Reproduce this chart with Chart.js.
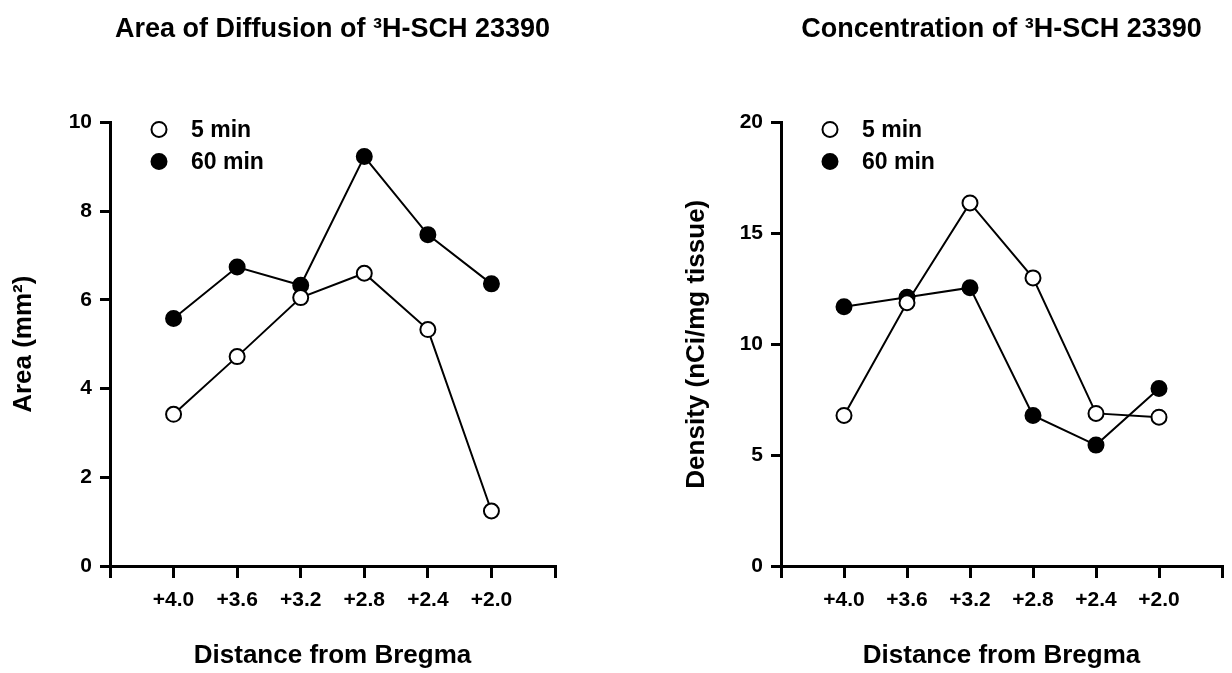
<!DOCTYPE html>
<html>
<head>
<meta charset="utf-8">
<script src="https://cdn.jsdelivr.net/npm/chart.js@4.4.1/dist/chart.umd.min.js"></script>
<style>
  html, body { margin: 0; padding: 0; background: #fff; }
  .wrap { display: flex; width: 1232px; height: 673px; }
  canvas { display: block; }
</style>
</head>
<body>
<div class="wrap">
  <canvas id="areaChart" width="616" height="673"></canvas>
  <canvas id="densityChart" width="616" height="673"></canvas>
</div>
<script>
// ─── Data ─────────────────────────────────────────────────────────────────
const distanceLabels = ['+4.0', '+3.6', '+3.2', '+2.8', '+2.4', '+2.0'];
const area5min = [3.42, 4.72, 6.05, 6.60, 5.33, 1.24];
const area60min = [5.58, 6.74, 6.33, 9.23, 7.47, 6.36];
const density5min = [6.79, 11.87, 16.37, 12.99, 6.88, 6.71];
const density60min = [11.69, 12.12, 12.55, 6.79, 5.45, 8.0];
const seriesNames = ['5 min', '60 min'];

const FONT = "'Liberation Sans', Arial, Helvetica, sans-serif";
Chart.defaults.font.family = FONT;
Chart.defaults.font.weight = 'bold';
Chart.defaults.color = '#000';

// empty slot at each end so the axis runs past the first / last distance
const paddedLabels = ['', ...distanceLabels, ''];
const pad = (arr) => [null, ...arr, null];

// ─── Legend drawn inside the plot area ────────────────────────────────────
const inlineLegend = {
  id: 'inlineLegend',
  afterDatasetsDraw(chart, args, opts) {
    const { ctx, chartArea } = chart;
    ctx.save();
    ctx.font = `bold ${opts.size}px ${FONT}`;
    ctx.textBaseline = 'middle';
    chart.data.datasets.forEach((ds, i) => {
      const cx = chartArea.left + opts.dotX;
      const cy = chartArea.top + opts.top + i * opts.gap;
      ctx.beginPath();
      ctx.arc(cx, cy, ds.pointRadius, 0, Math.PI * 2);
      ctx.fillStyle = ds.pointBackgroundColor;
      ctx.fill();
      ctx.lineWidth = ds.pointBorderWidth;
      ctx.strokeStyle = '#000';
      ctx.stroke();
      ctx.fillStyle = '#000';
      ctx.fillText(ds.label, chartArea.left + opts.textX, cy + 1);
    });
    ctx.restore();
  }
};

function lineSet(label, values, fill) {
  return {
    label,
    data: pad(values),
    borderColor: '#000',
    borderWidth: 2,
    pointRadius: 7.5,
    pointBorderWidth: 2,
    pointBorderColor: '#000',
    pointBackgroundColor: fill,
    tension: 0,
  };
}

function makePanel(canvasId, cfg) {
  const axisStyle = {
    border: { display: true, color: '#000', width: 3 },
  };
  return new Chart(document.getElementById(canvasId), {
    type: 'line',
    data: {
      labels: paddedLabels,
      datasets: [
        lineSet(seriesNames[0], cfg.open, '#fff'),
        lineSet(seriesNames[1], cfg.filled, '#000'),
      ],
    },
    plugins: [inlineLegend],
    options: {
      responsive: false,
      animation: false,
      layout: { padding: { left: 0, right: cfg.padRight, top: 0, bottom: 0 } },
      plugins: {
        legend: { display: false },
        tooltip: { enabled: false },
        title: {
          display: true,
          text: cfg.title,
          fullSize: false,
          font: { size: 27, weight: 'bold' },
          color: '#000',
          padding: { top: 13, bottom: 77 },
        },
        inlineLegend: { size: 23, dotX: 49, textX: 81, top: 7, gap: 32 },
      },
      scales: {
        x: {
          ...axisStyle,
          offset: false,
          grid: { display: true, drawOnChartArea: false, drawTicks: true, tickLength: 12, color: '#000', lineWidth: 3 },
          ticks: { autoSkip: false, maxRotation: 0, padding: 10, font: { size: 21, weight: 'bold' }, color: '#000' },
          title: { display: true, text: 'Distance from Bregma', font: { size: 26, weight: 'bold' }, color: '#000', padding: { top: 0, bottom: 2 } },
          afterFit: (s) => { s.height = 107; },
        },
        y: {
          ...axisStyle,
          min: 0,
          max: cfg.yMax,
          grid: { display: true, drawOnChartArea: false, drawTicks: true, tickLength: 10, color: '#000', lineWidth: 3 },
          ticks: { stepSize: cfg.yStep, padding: 8, font: { size: 21, weight: 'bold' }, color: '#000' },
          title: { display: true, text: cfg.yTitle, font: { size: 26, weight: 'bold' }, color: '#000', padding: { top: cfg.yTitlePad, bottom: 0 } },
          afterFit: (s) => { s.width = cfg.yWidth; },
        },
      },
    },
  });
}

makePanel('areaChart', {
  title: 'Area of Diffusion of \u00B3H-SCH 23390',
  yTitle: 'Area (mm\u00B2)',
  open: area5min,
  filled: area60min,
  yMax: 10,
  yStep: 2,
  yWidth: 110,
  yTitlePad: 8,
  padRight: 61,
});

makePanel('densityChart', {
  title: 'Concentration of \u00B3H-SCH 23390',
  yTitle: 'Density (nCi/mg tissue)',
  open: density5min,
  filled: density60min,
  yMax: 20,
  yStep: 5,
  yWidth: 165,
  yTitlePad: 65,
  padRight: 4,
});
</script>
</body>
</html>
